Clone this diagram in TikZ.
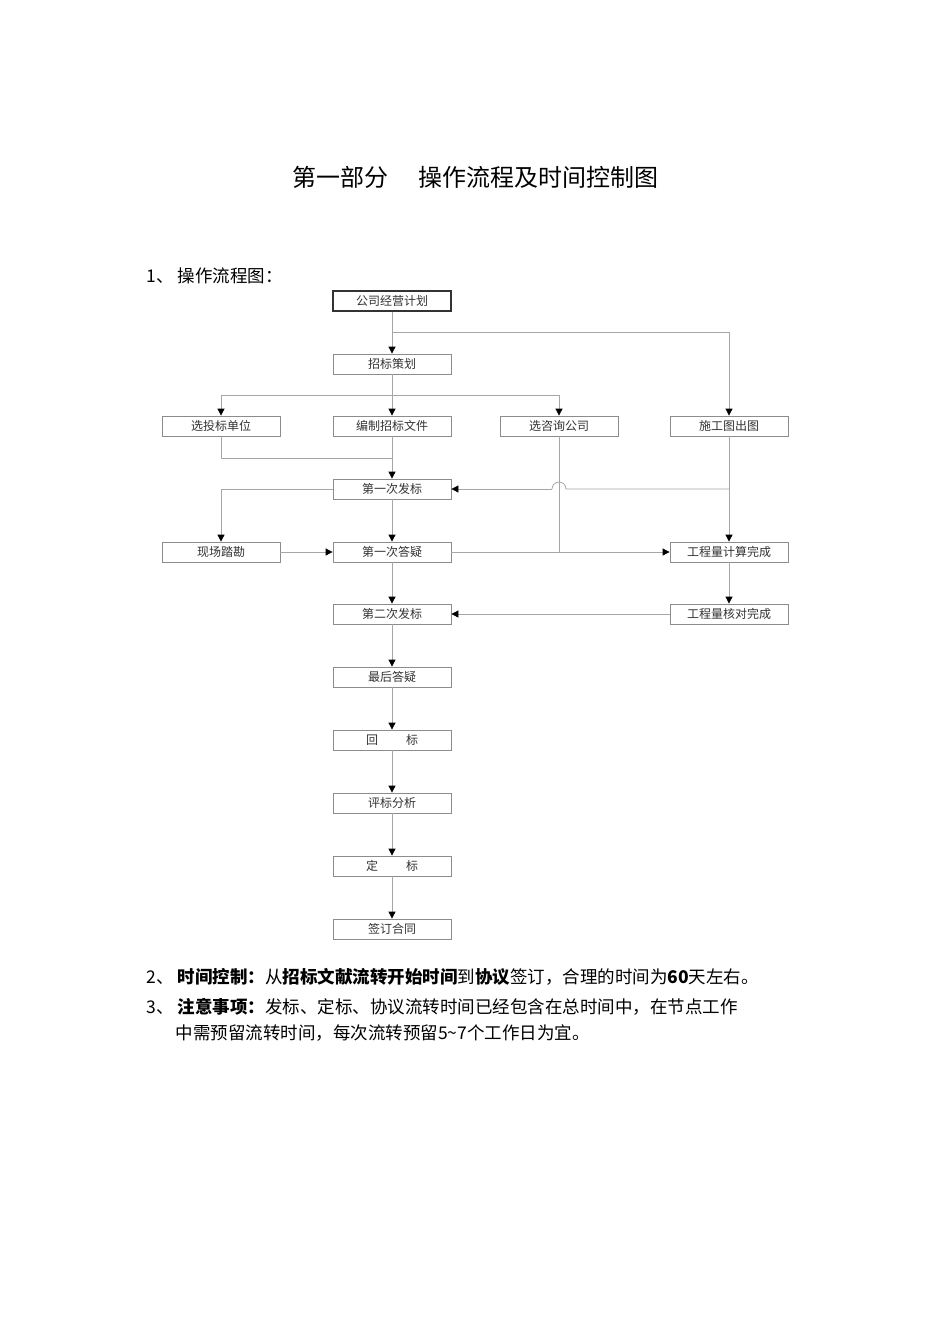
\documentclass[tikz,border=0pt]{standalone}
\usepackage{fontspec}
\setmainfont{Noto Sans CJK SC}
\usetikzlibrary{arrows.meta}
\begin{document}
\begin{tikzpicture}[x=1pt,y=-1pt,
  bx/.style={draw=black!45,line width=0.8pt,minimum width=118pt,minimum height=20pt,inner sep=0pt,font=\fontsize{12}{12}\selectfont,text=black!80},
  ln/.style={draw=black!35,line width=0.8pt},
  ar/.style={ln,-{Triangle[length=7pt,width=7pt,black]}},
  tx/.style={anchor=west,font=\fontsize{17.5}{17.5}\selectfont}]
\useasboundingbox[fill=white] (0,0) rectangle (950,1344);
\node[font=\fontsize{24}{24}\selectfont] (title) at (475,177) {第一部分\hspace{30pt}操作流程及时间控制图};
\node[tx] (h1) at (143,276) {1、 操作流程图：};
\node[bx,draw=black!80,line width=1.8pt] (a) at (392,301) {公司经营计划};
\node[bx] (b) at (392,364) {招标策划};
\node[bx] (c1) at (221,426) {选投标单位};
\node[bx] (c2) at (392,426) {编制招标文件};
\node[bx] (c3) at (559,426) {选咨询公司};
\node[bx] (c4) at (729,426) {施工图出图};
\node[bx] (d) at (392,489) {第一次发标};
\node[bx] (e1) at (221,552) {现场踏勘};
\node[bx] (e2) at (392,552) {第一次答疑};
\node[bx] (e4) at (729,552) {工程量计算完成};
\node[bx] (f) at (392,614) {第二次发标};
\node[bx] (f4) at (729,614) {工程量核对完成};
\node[bx] (g) at (392,677) {最后答疑};
\node[bx] (h) at (392,740) {回\hspace{28pt}标};
\node[bx] (i) at (392,803) {评标分析};
\node[bx] (j) at (392,866) {定\hspace{28pt}标};
\node[bx] (k) at (392,929) {签订合同};
\coordinate (p1) at (392,332);
\coordinate (p2) at (392,395);
\draw[ar] (a) -- (b);
\draw[ar] (p1) -| (c4);
\draw[ar] (b) -- (c2);
\draw[ar] (p2) -| (c1);
\draw[ar] (p2) -| (c3);
\draw[ln] (c1.south) |- (392,458);
\draw[ar] (c2) -- (d);
\draw[ar] (c4) -- (e4);
\draw[ln] (729,489) -- (566,489) arc (0:-180:7);
\draw[ar] (552,489) -- (d.east);
\draw[ln] (c3.south) |- (560,552);
\draw[ar] (e2.east) -- (e4.west);
\draw[ar] (d.west) -| (e1.north);
\draw[ar] (e1) -- (e2);
\draw[ar] (d) -- (e2);
\draw[ar] (e2) -- (f);
\draw[ar] (e4) -- (f4);
\draw[ar] (f4) -- (f);
\draw[ar] (f) -- (g);
\draw[ar] (g) -- (h);
\draw[ar] (h) -- (i);
\draw[ar] (i) -- (j);
\draw[ar] (j) -- (k);
\node[tx] (t2) at (143,977) {2、 \textbf{时间控制：}从\textbf{招标文献流转开始时间}到\textbf{协议}签订，合理的时间为\textbf{60}天左右。};
\node[tx] (t3) at (143,1007) {3、 \textbf{注意事项：}发标、定标、协议流转时间已经包含在总时间中，在节点工作};
\node[tx] (t4) at (172,1033) {中需预留流转时间，每次流转预留5\textasciitilde7个工作日为宜。};
\end{tikzpicture}
\end{document}
